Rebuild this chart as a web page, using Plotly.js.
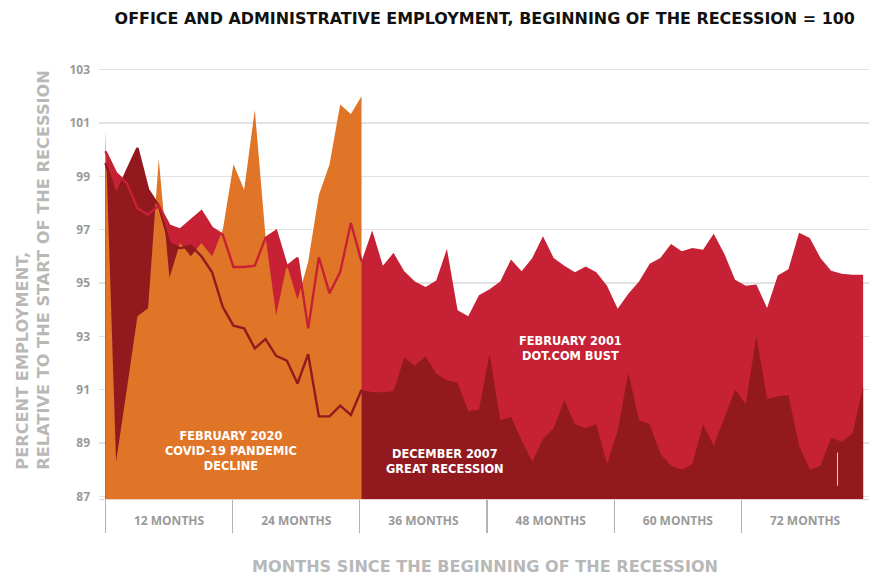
<!DOCTYPE html>
<html>
<head>
<meta charset="utf-8">
<script src="https://cdn.plot.ly/plotly-3.0.1.min.js"></script>
<style>html,body{margin:0;padding:0;background:#fff;}#chart{width:872px;height:577px;}</style>
</head>
<body>
<div id="chart"></div>
<script>
// Months since the beginning of the recession
const months = [0,1,2,3,4,5,6,7,8,9,10,11,12,13,14,15,16,17,18,19,20,21,22,23,24,
  25,26,27,28,29,30,31,32,33,34,35,36,37,38,39,40,41,42,43,44,45,46,47,48,
  49,50,51,52,53,54,55,56,57,58,59,60,61,62,63,64,65,66,67,68,69,70,71];

// February 2001 – Dot.com bust
const dotcom = [99.94,99.12,98.75,97.81,97.56,97.9,97.15,97.0,97.35,97.69,97.06,96.81,95.6,95.6,95.65,96.69,96.95,95.62,95.94,93.3,95.96,94.62,95.41,97.25,95.81,
  96.97,95.65,96.13,95.44,95.06,94.85,95.09,96.28,93.98,93.75,94.54,94.77,95.06,95.88,95.44,95.94,96.75,95.94,95.65,95.4,95.62,95.4,94.9,94.03,
  94.6,95.06,95.72,95.94,96.46,96.19,96.31,96.25,96.85,96.09,95.12,94.9,94.94,94.06,95.28,95.52,96.88,96.69,95.94,95.46,95.35,95.31,95.31];

// December 2007 – Great Recession
const greatRecession = [99.5,98.3,99.2,100.06,98.5,97.9,96.5,96.3,96.4,96.0,95.4,94.1,93.4,93.3,92.55,92.9,92.27,92.09,91.23,92.33,90.0,90.0,90.4,90.05,91.0,
  90.9,90.9,90.94,92.2,91.9,92.25,91.6,91.35,91.25,90.2,90.25,92.35,89.85,89.98,89.1,88.3,89.15,89.55,90.6,89.7,89.55,89.7,88.2,89.45,
  91.65,89.85,89.7,88.6,88.15,88.0,88.2,89.7,88.9,89.95,91.0,90.45,93.0,90.65,90.75,90.8,88.9,88.0,88.15,89.2,89.05,89.35,91.1];

// February 2020 – COVID-19 pandemic decline
const covid = [100.7,88.3,91.0,93.75,94.05,99.65,95.2,96.5,96.0,96.5,96.0,97.0,99.45,98.5,101.5,96.75,93.78,95.68,94.37,95.8,98.3,99.44,101.69,101.34,102.0];

// Axis labels
const yTicks = [87,89,91,93,95,97,99,101,103];
const yTickText = ["87","89","91","93","95","97","99","101","103"];
const xTickText = ["12 MONTHS","24 MONTHS","36 MONTHS","48 MONTHS","60 MONTHS","72 MONTHS"];

const ORANGE = '#E07527', CRIMSON = '#C62134', DARK = '#921A1F';
const covidMonths = months.slice(0, covid.length);

// band layout for the month-group labels (layout, not data)
const band = 11.92;
const sepVals = xTickText.map((_, i) => i * band);
const labelVals = xTickText.map((_, i) => (i + 0.5) * band);

const traces = [
  {x: months, y: dotcom, type:'scatter', mode:'lines', fill:'tozeroy', fillcolor: CRIMSON, line:{width:0, color:CRIMSON}, hoverinfo:'skip'},
  {x: months, y: greatRecession, type:'scatter', mode:'lines', fill:'tozeroy', fillcolor: DARK, line:{width:0, color:DARK}, hoverinfo:'skip'},
  {x: covidMonths, y: covid, type:'scatter', mode:'lines', fill:'tozeroy', fillcolor: ORANGE, line:{width:0, color:ORANGE}, hoverinfo:'skip'},
  {x: covidMonths, y: greatRecession.slice(0, covid.length), type:'scatter', mode:'lines', line:{width:2.4, color:DARK}, hoverinfo:'skip'},
  {x: covidMonths, y: dotcom.slice(0, covid.length), type:'scatter', mode:'lines', line:{width:2.4, color:CRIMSON}, hoverinfo:'skip'}
];

const FONT = 'Open Sans, Arial, sans-serif';
const HFONT = 'DejaVu Sans, Verdana, sans-serif';
const white = {family: HFONT, size: 11.4, color: '#ffffff', weight: 700};

function lbl(text, x, y) {
  return {text: text, x: x, y: y, xref:'x', yref:'y', showarrow:false, font: white, xanchor:'center', yanchor:'middle', align:'center'};
}

const layout = {
  width: 872, height: 577,
  margin: {l: 99, r: 3, t: 59.3, b: 77.6, pad: 0},
  paper_bgcolor: '#ffffff', plot_bgcolor: '#ffffff',
  showlegend: false,
  title: {text: 'OFFICE AND ADMINISTRATIVE EMPLOYMENT, BEGINNING OF THE RECESSION = 100',
          font: {family: HFONT, size: 15.95, color: '#111111', weight: 700},
          xref: 'paper', x: 0.501, xanchor: 'center', yref: 'container', y: 0.968, yanchor: 'middle'},
  xaxis: {range: [-0.6, 71.55], tickmode: 'array', tickvals: labelVals, ticktext: xTickText,
          ticks: '', showgrid: false, zeroline: false, showline: true, linecolor: '#e2d2d2', linewidth: 1,
          tickfont: {family: FONT, size: 12, color: '#9a9a9a', weight: 700}, ticklabelstandoff: 11,
          minor: {tickmode: 'array', tickvals: sepVals, ticks: 'outside', ticklen: 33, tickwidth: 1.3, tickcolor: '#b3b3b3', showgrid: false}},
  yaxis: {range: [86.9, 103.4], tickmode: 'array', tickvals: yTicks, ticktext: yTickText,
          ticks: '', showgrid: true, gridcolor: '#e2e2e2', gridwidth: 1.3, zeroline: false, showline: false,
          tickfont: {family: FONT, size: 12, color: '#9a9a9a', weight: 700}, ticklabelstandoff: 8},
  shapes: [
    {type:'line', xref:'x', yref:'y', x0: 68.6, x1: 68.6, y0: 87.4, y1: 88.64, line:{color:'#d6d6d6', width:1}}
  ],
  annotations: [
    {text: 'PERCENT EMPLOYMENT,<br>RELATIVE TO THE START OF THE RECESSION', textangle: -90,
     xref: 'paper', x: 0, xshift: -66, xanchor: 'center', yref: 'paper', y: 0.062, yanchor: 'bottom',
     align: 'left', showarrow: false, font: {family: HFONT, size: 16.2, color: '#b8b8b8', weight: 700}},
    {text: 'MONTHS SINCE THE BEGINNING OF THE RECESSION', xref: 'paper', x: 0.501, xanchor: 'center',
     yref: 'paper', y: -0.154, yanchor: 'middle', showarrow: false,
     font: {family: HFONT, size: 16.1, color: '#b8b8b8', weight: 700}},
    lbl('FEBRUARY 2020<br>COVID-19 PANDEMIC<br>DECLINE', 11.8, 88.69),
    lbl('DECEMBER 2007<br>GREAT RECESSION', 31.8, 88.31),
    lbl('FEBRUARY 2001<br>DOT.COM BUST', 43.6, 92.56)
  ]
};

Plotly.newPlot('chart', traces, layout, {displayModeBar: false, staticPlot: true});
</script>
</body>
</html>
